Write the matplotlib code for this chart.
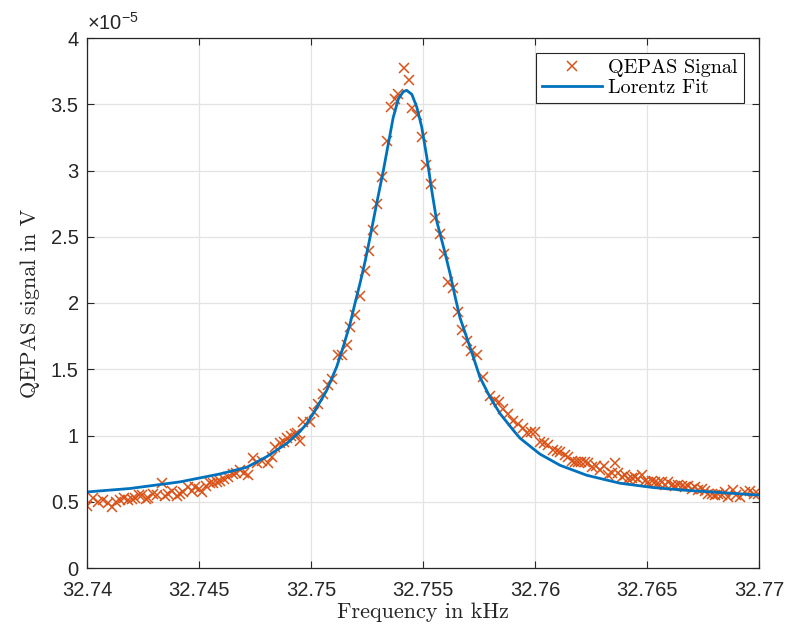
import matplotlib.pyplot as plt
from matplotlib.ticker import FuncFormatter

# QEPAS measurement, frequency in kHz, signal in units of 1e-5 V
freq_khz = [
    32.74000, 32.74027, 32.74049, 32.74071, 32.74094, 32.74112, 32.74129, 32.74147,
    32.74165, 32.74183, 32.74201, 32.74214, 32.74232, 32.74246, 32.74263, 32.74272,
    32.74295, 32.74313, 32.74335, 32.74348, 32.74362, 32.74379, 32.74402, 32.74415,
    32.74429, 32.74451, 32.74469, 32.74482, 32.74500, 32.74513, 32.74531, 32.74549,
    32.74563, 32.74580, 32.74594, 32.74612, 32.74629, 32.74652, 32.74665, 32.74683,
    32.74701, 32.74719, 32.74741, 32.74759, 32.74781, 32.74808, 32.74826, 32.74839,
    32.74862, 32.74879, 32.74893, 32.74911, 32.74929, 32.74938, 32.74951, 32.74964,
    32.74996, 32.75013, 32.75031, 32.75054, 32.75076, 32.75094, 32.75121, 32.75138,
    32.75161, 32.75174, 32.75196, 32.75219, 32.75241, 32.75259, 32.75277, 32.75295,
    32.75317, 32.75339, 32.75357, 32.75375, 32.75388, 32.75415, 32.75438, 32.75451,
    32.75473, 32.75496, 32.75513, 32.75536, 32.75554, 32.75576, 32.75594, 32.75612,
    32.75634, 32.75656, 32.75674, 32.75696, 32.75714, 32.75741, 32.75768, 32.75799,
    32.75821, 32.75839, 32.75857, 32.75879, 32.75902, 32.75924, 32.75946, 32.75964,
    32.75982, 32.76000, 32.76022, 32.76040, 32.76058, 32.76080, 32.76098, 32.76112,
    32.76134, 32.76147, 32.76165, 32.76179, 32.76192, 32.76205, 32.76223, 32.76237,
    32.76254, 32.76272, 32.76290, 32.76308, 32.76326, 32.76344, 32.76357, 32.76371,
    32.76388, 32.76402, 32.76415, 32.76433, 32.76446, 32.76460, 32.76478, 32.76491,
    32.76504, 32.76522, 32.76536, 32.76549, 32.76567, 32.76580, 32.76594, 32.76612,
    32.76625, 32.76638, 32.76656, 32.76670, 32.76683, 32.76701, 32.76714, 32.76728,
    32.76746, 32.76759, 32.76772, 32.76790, 32.76804, 32.76817, 32.76835, 32.76848,
    32.76862, 32.76884, 32.76897, 32.76915, 32.76938, 32.76960, 32.76978, 32.76996,
]
signal = [
    0.47, 0.53, 0.50, 0.51, 0.49, 0.46, 0.50, 0.51,
    0.53, 0.51, 0.52, 0.53, 0.55, 0.55, 0.52, 0.53,
    0.56, 0.55, 0.64, 0.54, 0.56, 0.58, 0.54, 0.56,
    0.57, 0.61, 0.58, 0.61, 0.60, 0.57, 0.62, 0.64,
    0.64, 0.65, 0.66, 0.67, 0.69, 0.71, 0.72, 0.74,
    0.72, 0.70, 0.83, 0.79, 0.81, 0.79, 0.84, 0.91,
    0.94, 0.95, 0.98, 1.00, 1.01, 1.02, 0.96, 1.10,
    1.10, 1.18, 1.24, 1.31, 1.38, 1.43, 1.61, 1.61,
    1.68, 1.82, 1.91, 2.05, 2.24, 2.39, 2.55, 2.75,
    2.95, 3.22, 3.48, 3.54, 3.58, 3.77, 3.68, 3.47,
    3.42, 3.25, 3.04, 2.90, 2.64, 2.52, 2.37, 2.16,
    2.11, 1.93, 1.80, 1.71, 1.64, 1.61, 1.44, 1.30,
    1.27, 1.25, 1.20, 1.165, 1.11, 1.09, 1.06, 1.02,
    1.03, 1.03, 0.95, 0.94, 0.93, 0.89, 0.88, 0.875,
    0.85, 0.84, 0.81, 0.80, 0.80, 0.80, 0.80, 0.79,
    0.76, 0.77, 0.74, 0.77, 0.70, 0.72, 0.79, 0.72,
    0.69, 0.70, 0.67, 0.68, 0.69, 0.67, 0.70, 0.66,
    0.65, 0.66, 0.65, 0.64, 0.65, 0.63, 0.65, 0.63,
    0.62, 0.63, 0.62, 0.61, 0.62, 0.60, 0.61, 0.59,
    0.60, 0.58, 0.56, 0.56, 0.55, 0.56, 0.55, 0.57,
    0.535, 0.59, 0.55, 0.535, 0.57, 0.58, 0.56, 0.56,
]

# Lorentz fit curve
fit_khz = [
    32.74000, 32.74192, 32.74415, 32.74594, 32.74713, 32.74802, 32.74892, 32.74951,
    32.74981, 32.75010, 32.75070, 32.75115, 32.75144, 32.75174, 32.75196, 32.75219,
    32.75241, 32.75263, 32.75293, 32.75323, 32.75345, 32.75367, 32.75390, 32.75412,
    32.75427, 32.75450, 32.75472, 32.75494, 32.75517, 32.75539, 32.75561, 32.75595,
    32.75621, 32.75643, 32.75665, 32.75695, 32.75725, 32.75754, 32.75799, 32.75844,
    32.75903, 32.75933, 32.75992, 32.76022, 32.76112, 32.76231, 32.76379, 32.76528,
    32.76677, 32.76826, 32.77000,
]
fit_signal = [
    0.574, 0.60, 0.65, 0.71, 0.76, 0.84, 0.94, 1.03,
    1.09, 1.165, 1.34, 1.52, 1.67, 1.84, 1.995, 2.15,
    2.31, 2.49, 2.75, 3.00, 3.20, 3.40, 3.54, 3.595,
    3.605, 3.575, 3.48, 3.33, 3.10, 2.85, 2.62, 2.40,
    2.22, 2.05, 1.89, 1.74, 1.59, 1.44, 1.29, 1.165,
    1.04, 0.98, 0.90, 0.86, 0.775, 0.70, 0.64, 0.607,
    0.586, 0.57, 0.55,
]

x_ticks = [32.74, 32.745, 32.75, 32.755, 32.76, 32.765, 32.77]
y_ticks = [0, 0.5, 1, 1.5, 2, 2.5, 3, 3.5, 4]

plt.rcParams['font.family'] = ['Liberation Sans', 'DejaVu Sans']
plt.rcParams['mathtext.fontset'] = 'custom'
plt.rcParams['mathtext.rm'] = 'Liberation Sans'
plt.rcParams['mathtext.it'] = 'Liberation Sans'

fig = plt.figure(figsize=(7.87, 6.29), dpi=100)
ax = fig.add_axes([87 / 787, 61 / 629, 672 / 787, 530 / 629])

ax.plot(freq_khz, signal, 'x', color='#D95319', markersize=7.5, markeredgewidth=1.1,
        label='QEPAS Signal')
ax.plot(fit_khz, fit_signal, '-', color='#0072BD', linewidth=2.0, label='Lorentz Fit')

ax.set_xlim(32.74, 32.77)
ax.set_ylim(0, 4)
ax.set_xticks(x_ticks)
ax.set_yticks(y_ticks)
ax.xaxis.set_major_formatter(FuncFormatter(lambda v, _: f'{v:g}'))
ax.yaxis.set_major_formatter(FuncFormatter(lambda v, _: f'{v:g}'))

ax.grid(True, color='#e3e3e3', linewidth=0.9)
ax.set_axisbelow(True)
ax.tick_params(direction='in', length=5, width=0.8, color='#262626',
               labelsize=14.5, labelcolor='#262626', top=True, right=True)
ax.tick_params(axis='x', pad=9)
ax.tick_params(axis='y', pad=6)
for s in ax.spines.values():
    s.set_color('#262626')
    s.set_linewidth(0.9)

ax.set_xlabel('Frequency in kHz', fontfamily='cmr10', fontsize=16, color='#262626', labelpad=2)
ax.set_ylabel('QEPAS signal in V', fontfamily='cmr10', fontsize=16, color='#262626', labelpad=8)

ax.text(0.0, 1.008, r'$\times 10^{-5}$', transform=ax.transAxes, fontsize=14.5,
        color='#262626', ha='left', va='bottom')

leg = ax.legend(loc='upper right', prop={'family': 'cmr10', 'size': 14.5},
                frameon=True, fancybox=False, framealpha=1, edgecolor='#262626',
                borderaxespad=0.75, handlelength=3.0, labelspacing=0.1,
                borderpad=0.3, handletextpad=0.3)
leg.get_frame().set_linewidth(0.8)

fig.savefig('out.png', dpi=100)
